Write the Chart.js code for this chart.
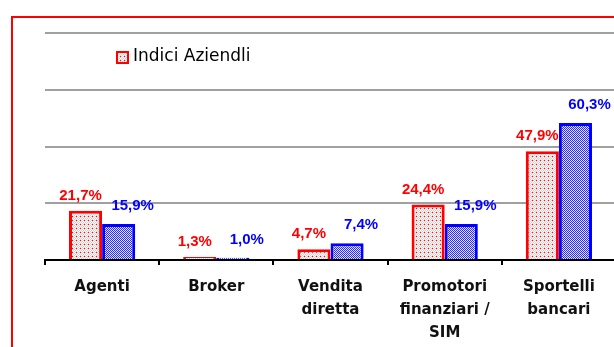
<!DOCTYPE html>
<html>
<head>
<meta charset="utf-8">
<script src="https://cdn.jsdelivr.net/npm/chart.js@4/dist/chart.umd.min.js"></script>
<style>
  html, body { margin: 0; padding: 0; background: #fff; overflow: hidden; width: 614px; height: 347px; }
  #wrap { position: absolute; left: 0; top: 0; width: 620px; height: 347px; }
  #frame { position: absolute; left: 11px; top: 16px; width: 700px; height: 400px;
           border-left: 2px solid #ff0000; border-top: 2px solid #ff0000; }
</style>
</head>
<body>
<div id="frame"></div>
<div id="wrap"><canvas id="c" width="620" height="347"></canvas></div>
<script>
// Categories and values (percent)
const categories = [
  ['Agenti'],
  ['Broker'],
  ['Vendita', 'diretta'],
  ['Promotori', 'finanziari /', 'SIM'],
  ['Sportelli', 'bancari']
];
const seriesNames = ['Indici Aziendli', 'Mercato'];
const aziendali = [21.7, 1.3, 4.7, 24.4, 47.9];
const mercato = [15.9, 1.0, 7.4, 15.9, 60.3];
const yTicks = [0, 25, 50, 75, 100];

// Fill patterns for the bars
function makePattern(kind) {
  const t = document.createElement('canvas');
  const g = t.getContext('2d');
  if (kind === 'red') {
    t.width = 4; t.height = 4;
    g.fillStyle = '#ffffff';
    g.fillRect(0, 0, 4, 4);
    g.fillStyle = '#fbc4c4';
    g.fillRect(1, 0, 1, 1); g.fillRect(3, 0, 1, 1);
    g.fillRect(0, 1, 1, 1); g.fillRect(2, 1, 1, 1);
    g.fillRect(1, 2, 1, 1); g.fillRect(3, 2, 1, 1);
    g.fillRect(0, 3, 1, 1); g.fillRect(2, 3, 1, 1);
    g.fillStyle = '#ff1010';
    g.fillRect(0, 0, 1, 1);
  } else {
    t.width = 2; t.height = 2;
    g.fillStyle = '#e8e8ff';
    g.fillRect(0, 0, 2, 2);
    g.fillStyle = '#2a2aff';
    g.fillRect(0, 0, 1, 1);
    g.fillRect(1, 1, 1, 1);
  }
  return g.createPattern(t, 'repeat');
}
const ctx0 = document.getElementById('c').getContext('2d');
const redFill = makePattern('red');
const blueFill = makePattern('blue');

const fmt = v => v.toFixed(1).replace('.', ',') + '%';

// Value labels above each bar
const valueLabels = {
  id: 'valueLabels',
  afterDatasetsDraw(chart) {
    const ctx = chart.ctx;
    ctx.save();
    ctx.font = 'bold 15px "Liberation Sans", Arial, sans-serif';
    ctx.textAlign = 'center';
    ctx.textBaseline = 'middle';
    const offs = [{ dx: -5, dy: -15, color: '#ff0000' }, { dx: 14, dy: -18, color: '#0000ff' }];
    chart.data.datasets.forEach((ds, di) => {
      const meta = chart.getDatasetMeta(di);
      meta.data.forEach((bar, i) => {
        ctx.fillStyle = offs[di].color;
        ctx.fillText(fmt(ds.data[i]), bar.x + offs[di].dx, bar.y + offs[di].dy);
      });
    });
    ctx.restore();
  }
};

// Legend drawn inside the plot area (first series only)
const insideLegend = {
  id: 'insideLegend',
  afterDraw(chart) {
    const ctx = chart.ctx;
    const x = 116, y = 57;
    ctx.save();
    ctx.fillStyle = redFill;
    ctx.fillRect(x, y - 6, 13, 13);
    ctx.strokeStyle = '#ff0000';
    ctx.lineWidth = 2;
    ctx.strokeRect(x + 1, y - 5, 11, 11);
    ctx.fillStyle = '#000';
    ctx.font = '17px "DejaVu Sans", sans-serif';
    ctx.textBaseline = 'middle';
    ctx.textAlign = 'left';
    ctx.fillText(seriesNames[0], x + 17, y);
    ctx.restore();
  }
};

new Chart(ctx0, {
  type: 'bar',
  data: {
    labels: categories,
    datasets: [
      { label: seriesNames[0], data: aziendali, backgroundColor: redFill, borderColor: '#ff0000', borderWidth: 3 },
      { label: seriesNames[1], data: mercato, backgroundColor: blueFill, borderColor: '#0000ff', borderWidth: 3 }
    ]
  },
  options: {
    responsive: false,
    animation: false,
    devicePixelRatio: 1,
    layout: { padding: { left: 45, right: 4, top: 33, bottom: 0 } },
    categoryPercentage: 0.58,
    barPercentage: 1,
    plugins: { legend: { display: false }, tooltip: { enabled: false } },
    scales: {
      x: {
        afterFit: s => { s.height = 87; },
        border: { display: true, color: '#000', width: 2 },
        grid: { offset: true, drawOnChartArea: false, drawTicks: true, tickLength: 5, color: '#000', lineWidth: 2 },
        ticks: { color: '#111', padding: 10, font: { family: '"DejaVu Sans", sans-serif', weight: 'bold', size: 15, lineHeight: 1.55 } }
      },
      y: {
        min: 0, max: 100,
        afterFit: s => { s.width = 0; },
        afterBuildTicks: s => { s.ticks = yTicks.map(v => ({ value: v })); },
        border: { display: false },
        grid: { drawTicks: false, lineWidth: 2, color: c => c.tick && c.tick.value === 0 ? 'rgba(0,0,0,0)' : '#a0a0a0' },
        ticks: { display: false }
      }
    }
  },
  plugins: [valueLabels, insideLegend]
});
</script>
</body>
</html>
